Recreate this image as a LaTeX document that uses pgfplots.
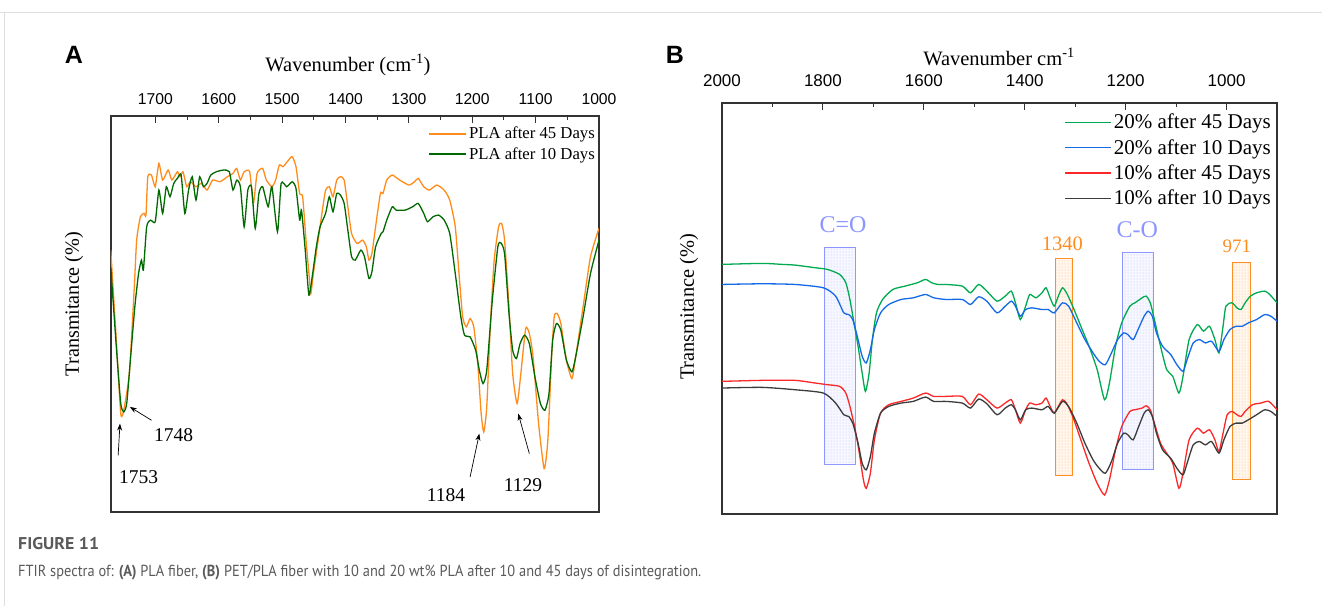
\documentclass[border=0pt]{standalone}
\usepackage{fontspec}
\setmainfont{Liberation Serif}
\newfontfamily\arial{Liberation Sans}
\newfontfamily\capfont{PT Sans}
\usepackage{pgfplots}
\pgfplotsset{compat=1.18}
\usetikzlibrary{arrows.meta,patterns}
\definecolor{orgA}{RGB}{255,140,26}
\definecolor{grnA}{RGB}{0,105,0}
\definecolor{grnB}{RGB}{0,170,80}
\definecolor{bluB}{RGB}{20,105,230}
\definecolor{redB}{RGB}{250,40,40}
\definecolor{blkB}{RGB}{60,60,60}
\definecolor{boxblue}{RGB}{140,150,255}
\definecolor{boxorg}{RGB}{255,140,30}
\definecolor{frm}{RGB}{51,51,51}
\definecolor{capgray}{RGB}{90,90,90}
\pgfplotsset{
  ftir/.style={
    scale only axis, x dir=reverse, ytick=\empty,
    xtick pos=right, xticklabel pos=right, tick align=inside,
    major tick length=7pt, minor tick length=4pt,
    tick style={frm, line width=1pt},
    axis line style={frm, line width=1.4pt},
    /pgf/number format/1000 sep={},
    /pgf/number format/assume math mode=true,
    legend cell align=left,
  }
}
\begin{document}
\begin{tikzpicture}
\path[use as bounding box] (0pt,0pt) rectangle (1322pt,-606pt);
\fill[white] (0pt,0pt) rectangle (1322pt,-606pt);
\draw[gray!25, line width=1pt] (0pt,-12pt) -- (1322pt,-12pt);
\draw[gray!25, line width=1pt] (4pt,-12pt) -- (4pt,-606pt);

% ---------------- Panel A ----------------
\begin{axis}[ftir, at={(111pt,-512pt)}, anchor=south west,
  width=488pt, height=396pt,
  xmin=1000, xmax=1770, ymin=0, ymax=118.7,
  xtick={1000,1100,...,1700}, minor x tick num=1,
  xticklabel style={font=\fontsize{15.7}{18}\selectfont\arial, yshift=8pt},
  legend image code/.code={\draw[#1, line width=1.4pt] (0pt,0pt) -- (37pt,0pt);},
  legend style={draw=none, fill=none, at={(1,1)}, anchor=north east,
    xshift=-2pt, yshift=-9pt, inner sep=0pt, row sep=3pt,
    font=\fontsize{16.7}{20}\selectfont,
    nodes={inner sep=2pt}},
  ]
\addplot[orgA, line width=1.3pt, smooth, tension=0.35] coordinates {
(1770.4,78.5)(1761.6,51.5)(1754.6,29.5)(1749.9,30.5)(1741.1,41.5)(1733.5,66.5)(1729.5,81.5)
(1723.6,88.5)(1717.8,89.5)(1714.8,89.0)(1711.9,100.5)(1706.1,101.0)(1700.2,97.5)(1694.4,104.5)
(1688.5,99.5)(1679.8,102.5)(1673.9,99.5)(1665.2,102.0)(1661.1,100.5)(1656.4,102.0)(1650.5,97.5)
(1644.7,99.0)(1635.9,97.5)(1627.2,98.5)(1618.4,96.5)(1609.6,99.5)(1597.9,99.0)(1586.3,100.5)
(1577.5,101.5)(1571.6,103.0)(1565.8,99.5)(1559.9,102.0)(1551.2,102.0)(1545.3,92.5)(1539.5,101.5)
(1530.7,103.0)(1524.9,99.5)(1516.1,97.5)(1510.3,99.5)(1504.4,104.0)(1498.6,103.5)(1489.8,105.5)
(1484.0,106.5)(1478.1,103.5)(1472.3,95.5)(1467.6,94.5)(1462.3,81.5)(1457.7,71.5)(1454.7,65.5)
(1450.6,71.5)(1443.1,81.5)(1437.2,89.5)(1431.4,96.5)(1425.5,97.5)(1419.7,94.5)(1413.8,99.5)
(1408.0,100.5)(1402.1,99.5)(1396.3,91.5)(1390.4,83.5)(1381.7,80.5)(1372.9,81.5)(1367.1,79.5)
(1363.0,75.5)(1358.3,77.5)(1352.5,85.5)(1344.9,95.5)(1340.8,95.5)(1334.9,99.5)(1326.2,101.0)
(1314.5,99.5)(1299.8,98.0)(1291.1,99.0)(1285.2,100.0)(1276.5,97.5)(1267.7,96.5)(1256.0,98.0)
(1244.3,96.5)(1235.5,93.5)(1226.8,85.5)(1220.9,71.5)(1215.1,58.5)(1209.3,55.5)(1203.4,58.0)
(1197.6,55.5)(1191.7,45.5)(1185.9,29.5)(1181.8,24.0)(1177.1,31.5)(1171.3,56.5)(1165.4,75.5)
(1158.4,85.5)(1153.7,86.5)(1149.0,81.5)(1142.0,61.5)(1136.2,41.5)(1129.2,32.5)(1123.3,41.5)
(1115.7,55.0)(1109.9,53.5)(1104.0,46.5)(1095.3,26.5)(1086.5,13.0)(1080.7,21.5)(1074.8,46.5)
(1070.7,58.5)(1066.0,59.5)(1060.2,56.5)(1051.4,45.5)(1042.7,40.0)(1036.8,46.5)(1025.1,61.5)
(1013.4,76.5)(1000.0,85.0)};
\addlegendentry{PLA after 45 Days}
\addplot[grnA, line width=1.3pt, smooth, tension=0.35] coordinates {
(1770.4,73.5)(1761.6,49.5)(1754.6,32.5)(1749.9,30.0)(1745.2,32.5)(1739.4,45.5)(1732.4,61.5)
(1726.5,71.5)(1721.9,75.5)(1718.9,72.5)(1713.7,85.5)(1707.8,87.5)(1700.2,87.0)(1694.4,96.5)
(1688.5,89.5)(1682.7,97.5)(1676.9,94.5)(1671.0,98.5)(1665.2,100.0)(1659.3,101.0)(1653.5,89.5)
(1647.6,96.5)(1641.8,100.5)(1635.9,93.5)(1630.1,100.5)(1624.2,97.5)(1618.4,98.5)(1612.6,101.0)
(1603.8,102.0)(1592.1,102.5)(1583.3,102.0)(1577.5,96.5)(1571.6,99.5)(1565.8,97.5)(1559.9,85.5)
(1554.1,96.5)(1548.3,97.5)(1542.4,85.0)(1536.6,95.5)(1530.7,97.5)(1522.0,91.5)(1516.1,97.5)
(1507.3,84.0)(1501.5,98.5)(1492.7,97.5)(1484.0,99.0)(1478.1,97.0)(1472.3,87.5)(1469.4,90.5)
(1463.5,78.5)(1457.7,65.0)(1451.8,71.5)(1446.0,79.5)(1440.1,85.5)(1431.4,89.5)(1425.5,94.5)
(1419.7,90.0)(1413.8,95.5)(1408.0,95.0)(1402.1,92.5)(1396.3,84.5)(1390.4,76.5)(1384.6,75.5)
(1375.8,78.5)(1370.0,76.5)(1363.0,70.0)(1358.3,72.0)(1352.5,79.5)(1343.7,83.5)(1340.8,84.0)
(1334.9,87.5)(1326.2,91.5)(1320.3,90.5)(1305.7,90.5)(1294.0,91.5)(1285.2,92.5)(1276.5,89.5)
(1270.6,87.0)(1261.9,88.5)(1253.1,89.0)(1244.3,87.5)(1235.5,83.5)(1226.8,71.5)(1218.0,58.5)
(1212.2,53.0)(1203.4,52.5)(1194.6,48.5)(1188.8,42.5)(1183.0,38.5)(1177.1,42.5)(1168.3,63.5)
(1159.6,79.5)(1154.9,80.7)(1149.0,77.5)(1142.0,59.5)(1136.2,48.5)(1130.3,46.0)(1124.5,50.5)
(1117.5,53.0)(1109.9,50.5)(1101.1,40.5)(1092.4,32.5)(1085.3,30.5)(1078.9,35.5)(1073.1,51.5)
(1067.2,56.5)(1060.2,54.5)(1051.4,45.5)(1042.7,42.0)(1036.8,46.5)(1025.1,58.5)(1013.4,71.5)
(1000.0,81.5)};
\addlegendentry{PLA after 10 Days}
\draw[-{Stealth[length=7pt,width=5pt]}, line width=0.7pt] (axis cs:1758.7,17) -- (axis cs:1755.8,26.5);
\draw[-{Stealth[length=7pt,width=5pt]}, line width=0.7pt] (axis cs:1706.1,27.5) -- (axis cs:1740.2,31.5);
\draw[-{Stealth[length=7pt,width=5pt]}, line width=0.7pt] (axis cs:1203.4,10.5) -- (axis cs:1188.8,23.5);
\draw[-{Stealth[length=7pt,width=5pt]}, line width=0.7pt] (axis cs:1109.9,17.5) -- (axis cs:1127.4,29.5);
\node[font=\fontsize{19.5}{20}\selectfont] at (axis cs:1726.5,10.5) {1753};
\node[font=\fontsize{19.5}{20}\selectfont] at (axis cs:1671,23) {1748};
\node[font=\fontsize{19.5}{20}\selectfont] at (axis cs:1241.4,5) {1184};
\node[font=\fontsize{19.5}{20}\selectfont] at (axis cs:1119.8,8) {1129};
\end{axis}

% ---------------- Panel B ----------------
\begin{axis}[ftir, at={(722pt,-514pt)}, anchor=south west,
  width=555pt, height=411pt,
  xmin=900, xmax=2000, ymin=0, ymax=123,
  xtick={1000,1200,...,2000}, minor x tick num=1,
  xticklabel style={font=\fontsize{17}{20}\selectfont\arial, yshift=13pt},
  legend image code/.code={\draw[#1, line width=1.4pt] (0pt,0pt) -- (46pt,0pt);},
  legend style={draw=none, fill=none, at={(1,1)}, anchor=north east,
    xshift=-4pt, yshift=-9pt, inner sep=0pt, row sep=5pt,
    font=\fontsize{21}{26}\selectfont,
    nodes={inner sep=2pt}},
  ]
\draw[boxblue, line width=1pt, fill=boxblue!8, postaction={pattern=dots, pattern color=boxblue!60}] (axis cs:1796.7,14.7) rectangle (axis cs:1735.9,79.7);
\draw[boxblue, line width=1pt, fill=boxblue!8, postaction={pattern=dots, pattern color=boxblue!60}] (axis cs:1205.4,13.2) rectangle (axis cs:1144.6,78.2);
\draw[boxorg, line width=1pt, fill=boxorg!8, postaction={pattern=dots, pattern color=boxorg!60}] (axis cs:1339.0,11.4) rectangle (axis cs:1305.0,76.4);
\draw[boxorg, line width=1pt, fill=boxorg!8, postaction={pattern=dots, pattern color=boxorg!60}] (axis cs:987.5,10.2) rectangle (axis cs:952.7,75.2);
\node[text=boxblue, font=\fontsize{24}{24}\selectfont] at (axis cs:1760,86.7) {C=O};
\node[text=boxblue, font=\fontsize{24}{24}\selectfont] at (axis cs:1177,85.2) {C-O};
\node[text=boxorg, font=\fontsize{20.5}{21}\selectfont] at (axis cs:1325.3,81.0) {1340};
\node[text=boxorg, font=\fontsize{19}{20}\selectfont] at (axis cs:979.4,80.2) {971};
\addplot[grnB, line width=1.3pt, smooth, tension=0.4] coordinates {
(2000,74.7)(1920.6,75.0)(1880.1,74.7)(1855.8,74.5)(1815.3,73.7)(1791.0,73.2)(1766.7,71.7)
(1754.6,69.2)(1746.5,64.2)(1738.4,57.2)(1730.3,50.2)(1722.2,42.2)(1715.7,36.7)(1708.4,42.2)
(1701.9,52.2)(1693.8,60.2)(1681.7,64.2)(1661.4,67.2)(1637.1,68.2)(1612.8,69.2)(1596.6,70.2)
(1584.5,69.2)(1572.3,68.7)(1556.1,68.7)(1523.7,68.2)(1507.5,66.2)(1491.3,68.7)(1475.1,66.7)
(1454.9,63.7)(1438.7,65.2)(1426.5,66.7)(1418.4,63.2)(1408.7,58.2)(1398.2,62.2)(1390.1,65.7)
(1377.9,64.7)(1365.8,66.2)(1357.7,67.7)(1349.6,64.7)(1341.5,62.2)(1333.4,65.2)(1325.3,67.7)
(1317.2,66.2)(1305.0,62.2)(1288.8,56.2)(1272.6,50.2)(1256.4,43.2)(1241.8,34.2)(1232.1,39.2)
(1220.0,50.2)(1207.8,57.2)(1191.6,62.2)(1181.5,63.2)(1167.3,64.7)(1159.2,65.2)(1151.1,63.2)
(1143.0,58.2)(1130.8,50.2)(1118.7,43.2)(1106.6,41.2)(1094.4,36.2)(1086.3,41.2)(1074.2,52.2)
(1058.0,56.7)(1045.8,54.7)(1033.7,56.2)(1023.1,52.2)(1015.0,48.2)(1006.9,56.2)(1001.3,62.2)
(989.1,63.2)(979.4,61.7)(971.3,61.2)(963.2,63.2)(952.7,65.2)(940.5,66.2)(924.3,66.7)
(914.5,65.7)(900.0,63.2)};
\addlegendentry{20\% after 45 Days}
\addplot[bluB, line width=1.3pt, smooth, tension=0.4] coordinates {
(2000,68.7)(1920.6,68.9)(1855.8,68.7)(1799.1,67.7)(1774.8,65.2)(1758.6,60.2)(1748.9,59.7)
(1740.8,58.2)(1730.3,52.2)(1722.2,47.2)(1714.1,45.2)(1705.9,49.2)(1697.9,55.2)(1685.7,60.2)
(1669.5,62.7)(1645.2,64.2)(1620.9,64.7)(1596.6,65.7)(1580.4,64.7)(1556.1,64.2)(1523.7,64.2)
(1507.5,62.7)(1491.3,65.0)(1475.1,63.7)(1454.9,60.2)(1438.7,62.2)(1426.5,63.7)(1418.4,62.2)
(1408.7,59.2)(1398.2,61.2)(1386.0,61.7)(1365.8,61.2)(1353.6,61.2)(1341.5,60.2)(1325.3,63.2)
(1313.1,62.2)(1296.9,57.2)(1280.7,52.2)(1264.5,48.2)(1252.4,45.7)(1240.2,44.7)(1228.1,48.2)
(1215.9,52.2)(1203.8,54.2)(1195.7,53.7)(1185.1,52.2)(1175.4,55.2)(1163.3,59.2)(1155.2,60.7)
(1147.1,59.2)(1138.9,54.2)(1126.8,50.2)(1110.6,47.7)(1098.5,44.7)(1086.3,42.7)(1078.2,46.2)
(1066.1,51.2)(1053.9,52.2)(1041.8,51.2)(1029.6,51.7)(1015.0,48.7)(1005.3,52.2)(993.2,55.2)
(981.0,56.2)(968.9,56.2)(956.7,57.2)(940.5,58.2)(924.3,59.7)(912.2,59.2)(900.0,57.7)};
\addlegendentry{20\% after 10 Days}
\addplot[redB, line width=1.3pt, smooth, tension=0.4] coordinates {
(2000,39.7)(1920.6,40.0)(1855.8,40.0)(1815.3,39.2)(1791.0,38.7)(1766.7,38.2)(1754.6,36.2)
(1746.5,32.2)(1735.9,25.2)(1727.8,18.2)(1719.7,10.2)(1714.1,7.7)(1705.9,12.2)(1697.9,22.2)
(1685.7,30.2)(1669.5,32.7)(1645.2,33.7)(1620.9,34.7)(1596.6,36.2)(1580.4,35.2)(1556.1,35.2)
(1523.7,35.2)(1507.5,32.7)(1491.3,35.9)(1475.1,34.2)(1454.9,31.7)(1438.7,33.2)(1426.5,34.2)
(1418.4,31.2)(1408.7,27.2)(1398.2,31.2)(1390.1,33.2)(1377.9,32.7)(1365.8,33.2)(1357.7,34.7)
(1349.6,32.2)(1341.5,30.2)(1333.4,32.2)(1325.3,34.2)(1317.2,33.2)(1305.0,29.2)(1288.8,22.2)
(1272.6,15.2)(1256.4,9.2)(1241.8,5.7)(1232.1,10.2)(1220.0,19.2)(1207.8,26.2)(1191.6,30.7)
(1181.5,31.2)(1167.3,31.7)(1159.2,32.4)(1151.1,31.2)(1143.0,27.2)(1130.8,21.2)(1118.7,18.2)
(1106.6,15.2)(1094.4,7.7)(1086.3,12.2)(1074.2,22.2)(1058.0,25.7)(1045.8,24.2)(1033.7,25.2)
(1023.1,22.2)(1015.0,18.7)(1006.9,24.2)(998.8,29.7)(989.1,30.7)(979.4,29.7)(971.3,29.2)
(963.2,30.7)(948.6,32.7)(932.4,33.2)(916.2,33.7)(900.0,31.2)};
\addlegendentry{10\% after 45 Days}
\addplot[blkB, line width=1.3pt, smooth, tension=0.4] coordinates {
(2000,37.7)(1920.6,37.9)(1855.8,37.2)(1799.1,36.2)(1774.8,33.2)(1758.6,29.7)(1748.9,29.2)
(1740.8,27.2)(1730.3,21.2)(1722.2,15.2)(1714.1,13.2)(1705.9,17.2)(1697.9,24.2)(1685.7,30.2)
(1669.5,32.2)(1645.2,33.2)(1620.9,33.7)(1596.6,35.0)(1580.4,33.7)(1556.1,33.7)(1523.7,33.2)
(1507.5,31.7)(1491.3,34.4)(1475.1,33.0)(1454.9,29.7)(1438.7,31.7)(1426.5,32.7)(1418.4,31.2)
(1408.7,28.2)(1398.2,31.2)(1386.0,31.7)(1365.8,31.2)(1353.6,32.2)(1341.5,30.2)(1325.3,33.7)
(1313.1,32.2)(1296.9,27.2)(1280.7,21.2)(1264.5,16.2)(1252.4,13.7)(1240.2,12.2)(1228.1,15.7)
(1215.9,21.2)(1203.8,24.2)(1195.7,23.7)(1185.1,22.2)(1175.4,25.7)(1163.3,30.2)(1155.2,31.2)
(1147.1,29.2)(1138.9,24.2)(1126.8,19.2)(1110.6,16.7)(1098.5,13.7)(1086.3,11.7)(1078.2,15.2)
(1066.1,20.7)(1053.9,21.7)(1041.8,20.7)(1029.6,21.7)(1015.0,18.2)(1005.3,22.2)(993.2,26.2)
(981.0,27.2)(968.9,27.2)(956.7,28.2)(940.5,29.7)(924.3,31.2)(912.2,30.7)(900.0,29.2)};
\addlegendentry{10\% after 10 Days}
\end{axis}

% ---------------- labels ----------------
\node[font=\fontsize{25}{25}\selectfont\arial\bfseries] at (74pt,-55pt) {A};
\node[font=\fontsize{25}{25}\selectfont\arial\bfseries] at (675pt,-55pt) {B};
\node[font=\fontsize{20.5}{22}\selectfont] at (348pt,-65pt) {Wavenumber (cm\textsuperscript{-1})};
\node[font=\fontsize{20.5}{22}\selectfont] at (999pt,-57pt) {Wavenumber cm\textsuperscript{-1}};
\node[font=\fontsize{20.2}{22}\selectfont, rotate=90] at (74pt,-304pt) {Transmitance (\%)};
\node[font=\fontsize{20.4}{22}\selectfont, rotate=90] at (689pt,-307pt) {Transmitance (\%)};

% ---------------- caption ----------------
\node[anchor=west, inner sep=0pt, text=capgray, font=\fontsize{17}{18}\selectfont\capfont\bfseries] at (18pt,-544pt) {\scalebox{1.05}[1]{FIGURE 11}};
\node[anchor=west, inner sep=0pt, text=capgray, font=\fontsize{16}{18}\selectfont\capfont] at (18pt,-573pt) {\scalebox{0.9}[1]{FTIR spectra of: \textbf{(A)} PLA fiber, \textbf{(B)} PET/PLA fiber with 10 and 20 wt\% PLA after 10 and 45 days of disintegration.}};
\end{tikzpicture}
\end{document}
